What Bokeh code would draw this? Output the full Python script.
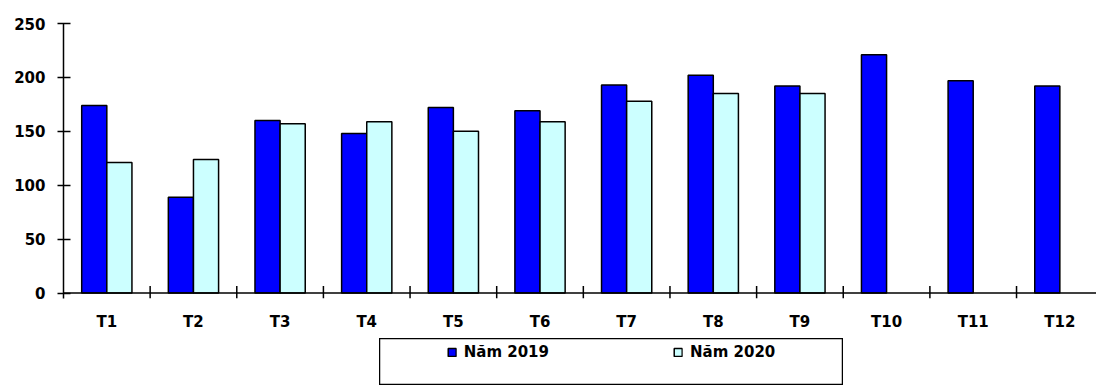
from bokeh.plotting import figure
from bokeh.models import FixedTicker, Span, Legend, LegendItem, ColumnDataSource, Spacer
from bokeh.layouts import column, row
from bokeh.transform import dodge
from bokeh.embed import file_html
from bokeh.resources import INLINE

months = ["T1", "T2", "T3", "T4", "T5", "T6", "T7", "T8", "T9", "T10", "T11", "T12"]
nam_2019 = [174, 89, 160, 148, 172, 169, 193, 202, 192, 221, 197, 192]
nam_2020 = [121, 124, 157, 159, 150, 159, 178, 185, 185, None, None, None]
y_ticks = [0, 50, 100, 150, 200, 250]

FONT = "DejaVu Sans"
FS = "15px"

xs = list(range(1, len(months) + 1))
src = ColumnDataSource(dict(
    x=xs,
    y2019=nam_2019,
    y2020=[float("nan") if v is None else v for v in nam_2020],
))

p = figure(width=1096, height=338, x_range=(0.5, 0.5 + 11.923), y_range=(-5, 250),
           toolbar_location=None, output_backend="svg",
           min_border_left=63, min_border_right=0, min_border_top=23, min_border_bottom=40)
p.outline_line_color = None
p.xgrid.visible = False
p.ygrid.visible = False

bar_style_2019 = dict(fill_color="#0000FF", line_color="black", line_width=1.5)
bar_style_2020 = dict(fill_color="#CCFFFF", line_color="black", line_width=1.5)

r1 = p.vbar(x=dodge("x", -0.145, range=p.x_range), top="y2019", width=0.29, source=src,
            **bar_style_2019)
r2 = p.vbar(x=dodge("x", 0.145, range=p.x_range), top="y2020", width=0.29, source=src,
            **bar_style_2020)

# baseline and category boundary ticks
p.add_layout(Span(location=0, dimension="width", line_color="black", line_width=1.5))
bounds = [x + 0.5 for x in xs[:-1]]
p.segment(x0=bounds, y0=[-5] * len(bounds), x1=bounds, y1=[6.5] * len(bounds),
          line_color="black", line_width=1.5)

# y axis
ya = p.yaxis[0]
ya.ticker = FixedTicker(ticks=y_ticks)
ya.axis_line_color = "black"
ya.axis_line_width = 1.5
ya.major_tick_line_color = "black"
ya.major_tick_line_width = 1.5
ya.major_tick_in = 7
ya.major_tick_out = 6
ya.minor_tick_line_color = None
ya.major_label_standoff = 12
ya.major_label_text_font = FONT
ya.major_label_text_font_size = FS
ya.major_label_text_font_style = "bold"
ya.major_label_text_color = "black"

# x axis
xa = p.xaxis[0]
xa.ticker = FixedTicker(ticks=xs)
xa.major_label_overrides = {x: m for x, m in zip(xs, months)}
xa.axis_line_color = None
xa.major_tick_line_color = None
xa.minor_tick_line_color = None
xa.major_tick_in = 0
xa.major_tick_out = 0
xa.major_label_standoff = 14
xa.major_label_text_font = FONT
xa.major_label_text_font_size = FS
xa.major_label_text_font_style = "bold"
xa.major_label_text_color = "black"

# legend panel (its own renderers draw the same data outside the visible range)
lf = figure(width=464, height=47, x_axis_type=None, y_axis_type=None,
            x_range=(-2, -1), y_range=(-2, -1), toolbar_location=None, output_backend="svg",
            min_border=0, outline_line_color="black", outline_line_width=1.5)
l1 = lf.vbar(x="x", top="y2019", width=0.29, source=src, **bar_style_2019)
l2 = lf.vbar(x="x", top="y2020", width=0.29, source=src, **bar_style_2020)
legend = Legend(items=[LegendItem(label="Năm 2019", renderers=[l1]),
                       LegendItem(label="Năm 2020", renderers=[l2])],
                orientation="horizontal", location="top_center", margin=0, padding=5,
                spacing=124, glyph_width=10, glyph_height=10, label_standoff=7,
                border_line_alpha=0, background_fill_alpha=0,
                label_text_font=FONT, label_text_font_size=FS, label_text_font_style="bold",
                label_text_color="black")
lf.add_layout(legend)

layout = column(p, row(Spacer(width=379, height=47), lf))

open("out.html", "w").write(file_html(layout, INLINE))
